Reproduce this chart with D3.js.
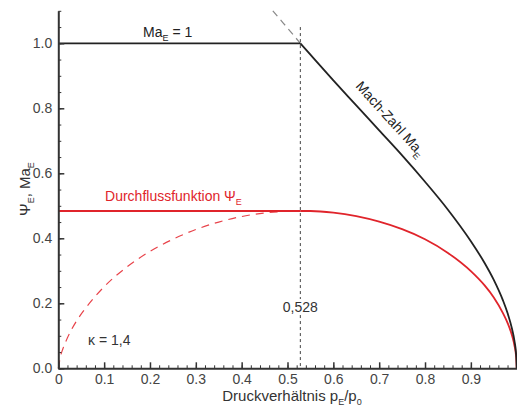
<!DOCTYPE html>
<html>
<head>
<meta charset="utf-8">
<script src="https://cdn.jsdelivr.net/npm/d3@7"></script>
<style>
  body { margin: 0; background: #fff; }
  svg { display: block; font-family: "Liberation Sans", Arial, sans-serif; }
  .axis path, .axis line { stroke: #333; }
  .axis text { fill: #444; font-size: 14px; }
</style>
</head>
<body>
<div id="graph"></div>
<script>
// pressure ratio pE/p0 and values
var machP      = [0.528, 0.55, 0.6, 0.65, 0.7, 0.75, 0.8, 0.85, 0.9, 0.93, 0.95, 0.97, 0.98, 0.99, 0.995, 0.999, 1.0];
var machVal    = [1.0, 0.965, 0.886, 0.809, 0.732, 0.655, 0.574, 0.488, 0.391, 0.324, 0.272, 0.209, 0.170, 0.120, 0.085, 0.038, 0.0];
var psiVal     = [0.484, 0.484, 0.479, 0.468, 0.451, 0.428, 0.397, 0.355, 0.299, 0.255, 0.218, 0.170, 0.140, 0.100, 0.071, 0.032, 0.0];

var machFlatP  = [0, 0.528];
var machFlatVal = [1.0, 1.0];

var machSuperP   = [0.468, 0.48, 0.50, 0.528];
var machSuperVal = [1.10, 1.08, 1.047, 1.0];

var psiFlatP   = [0, 0.528];
var psiFlatVal = [0.484, 0.484];

var psiDashP   = [0, 0.005, 0.01, 0.02, 0.04, 0.06, 0.1, 0.15, 0.2, 0.25, 0.3, 0.35, 0.4, 0.45, 0.5, 0.528];
var psiDashVal = [0, 0.038, 0.060, 0.094, 0.146, 0.186, 0.251, 0.312, 0.360, 0.397, 0.427, 0.450, 0.467, 0.478, 0.483, 0.484];

var xTicks = [0, 0.1, 0.2, 0.3, 0.4, 0.5, 0.6, 0.7, 0.8, 0.9];
var yTicks = [0, 0.2, 0.4, 0.6, 0.8, 1.0];
var critical = 0.528;

var W = 517, H = 407;

var x = d3.scaleLinear().domain([0, 1]).range([58.3, 516.7]);
var y = d3.scaleLinear().domain([0, 1.1]).range([368.3, 10.8]);

var svg = d3.select('#graph').append('svg')
  .attr('width', W)
  .attr('height', H);

function pts(px, py) {
  return px.map(function(p, i) { return [p, py[i]]; });
}

var line = d3.line()
  .x(function(d) { return x(d[0]); })
  .y(function(d) { return y(d[1]); })
  .curve(d3.curveMonotoneX);

// vertical dashed line at critical ratio
svg.append('line')
  .attr('x1', x(critical)).attr('x2', x(critical))
  .attr('y1', y(1.05)).attr('y2', y(0))
  .attr('stroke', '#444')
  .attr('stroke-width', 1)
  .attr('stroke-dasharray', '3,3');

// Mach number above 1 (dashed grey)
svg.append('path')
  .attr('d', line(pts(machSuperP, machSuperVal)))
  .attr('fill', 'none')
  .attr('stroke', '#888')
  .attr('stroke-width', 1.2)
  .attr('stroke-dasharray', '7,5');

// flow function, dashed part
svg.append('path')
  .attr('d', line(pts(psiDashP, psiDashVal)))
  .attr('fill', 'none')
  .attr('stroke', '#e8434a')
  .attr('stroke-width', 1.2)
  .attr('stroke-dasharray', '8,6');

// flow function, solid
svg.append('path')
  .attr('d', line(pts(psiFlatP, psiFlatVal)))
  .attr('fill', 'none')
  .attr('stroke', '#e0242b')
  .attr('stroke-width', 1.8);
svg.append('path')
  .attr('d', line(pts(machP, psiVal)))
  .attr('fill', 'none')
  .attr('stroke', '#e0242b')
  .attr('stroke-width', 1.8);

// Mach number
svg.append('path')
  .attr('d', line(pts(machFlatP, machFlatVal)))
  .attr('fill', 'none')
  .attr('stroke', '#222')
  .attr('stroke-width', 1.8);
svg.append('path')
  .attr('d', line(pts(machP, machVal)))
  .attr('fill', 'none')
  .attr('stroke', '#222')
  .attr('stroke-width', 1.8);

// axes: minor ticks first, then major ticks with labels
svg.append('g')
  .attr('class', 'axis')
  .attr('transform', 'translate(0,' + y(0) + ')')
  .call(d3.axisBottom(x).tickValues(d3.range(0, 51).map(function(i) { return i * 0.02; }))
        .tickSize(-3).tickSizeOuter(0).tickFormat(''))
  .call(function(g) {
    g.select('.domain').attr('stroke-width', 2);
    g.selectAll('text').remove();
  });

svg.append('g')
  .attr('class', 'axis')
  .attr('transform', 'translate(0,' + y(0) + ')')
  .call(d3.axisBottom(x).tickValues(xTicks).tickSize(-6).tickSizeOuter(0).tickPadding(6)
        .tickFormat(function(d) { return d === 0 ? '0' : d3.format('.1f')(d); }))
  .call(function(g) {
    g.select('.domain').remove();
    g.selectAll('line').attr('stroke-width', 1.5);
  });

svg.append('g')
  .attr('class', 'axis')
  .attr('transform', 'translate(' + x(0) + ',0)')
  .call(d3.axisLeft(y).tickValues(d3.range(0, 23).map(function(i) { return i * 0.05; }))
        .tickSize(-3).tickSizeOuter(0).tickFormat(''))
  .call(function(g) {
    g.select('.domain').attr('stroke-width', 2);
    g.selectAll('text').remove();
  });

svg.append('g')
  .attr('class', 'axis')
  .attr('transform', 'translate(' + x(0) + ',0)')
  .call(d3.axisLeft(y).tickValues(yTicks).tickSize(-6).tickSizeOuter(0)
        .tickFormat(d3.format('.1f')))
  .call(function(g) {
    g.select('.domain').remove();
    g.selectAll('line').attr('stroke-width', 1.5);
    g.selectAll('text').attr('x', -6);
  });

// text helper with subscripts
function label(g, parts) {
  var down = false;
  parts.forEach(function(p) {
    var t = g.append('tspan').text(p.t);
    if (p.sub) {
      t.attr('font-size', '9px').attr('dy', 4);
      down = true;
    } else if (down) {
      t.attr('dy', -4);
      down = false;
    }
  });
  return g;
}

// axis titles
label(svg.append('text')
  .attr('x', 292).attr('y', 401)
  .attr('text-anchor', 'middle')
  .attr('font-size', '15px')
  .attr('fill', '#333'),
  [{t: 'Druckverhältnis p'}, {t: 'E', sub: true}, {t: '/p'}, {t: '0', sub: true}]);

label(svg.append('text')
  .attr('transform', 'translate(30,189) rotate(-90)')
  .attr('text-anchor', 'middle')
  .attr('font-size', '15px')
  .attr('fill', '#333'),
  [{t: '\u03A8'}, {t: 'E', sub: true}, {t: ', Ma'}, {t: 'E', sub: true}]);

// annotations
label(svg.append('text')
  .attr('x', x(0.185)).attr('y', 37)
  .attr('font-size', '14px')
  .attr('fill', '#222'),
  [{t: 'Ma'}, {t: 'E', sub: true}, {t: ' = 1'}]);

label(svg.append('text')
  .attr('x', x(0.102)).attr('y', 201)
  .attr('font-size', '14px')
  .attr('fill', '#e0242b'),
  [{t: 'Durchflussfunktion \u03A8'}, {t: 'E', sub: true}]);

label(svg.append('text')
  .attr('transform', 'translate(387,122) rotate(48)')
  .attr('text-anchor', 'middle')
  .attr('font-size', '14px')
  .attr('fill', '#222'),
  [{t: 'Mach-Zahl Ma'}, {t: 'E', sub: true}]);

svg.append('text')
  .attr('x', x(0.065)).attr('y', 345)
  .attr('font-size', '14px')
  .attr('fill', '#333')
  .text('\u03BA = 1,4');

var crit = svg.append('text')
  .attr('x', x(critical)).attr('y', 312)
  .attr('text-anchor', 'middle')
  .attr('font-size', '14px')
  .attr('fill', '#333')
  .text('0,528');
var bb = crit.node().getBBox();
svg.insert('rect', function() { return crit.node(); })
  .attr('x', bb.x - 1).attr('y', bb.y)
  .attr('width', bb.width + 2).attr('height', bb.height)
  .attr('fill', '#fff');
</script>
</body>
</html>
